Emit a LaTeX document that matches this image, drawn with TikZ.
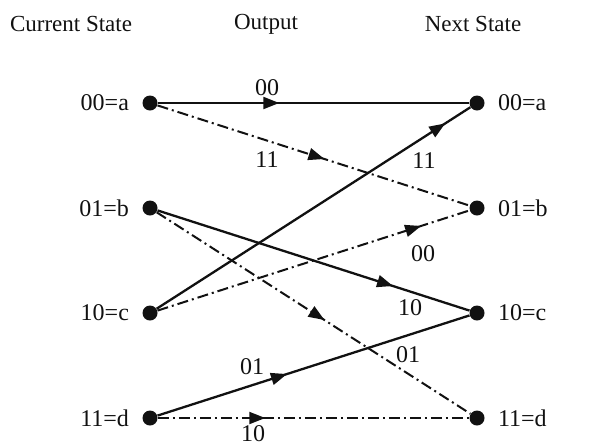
\documentclass[tikz,border=0pt]{standalone}
\usepackage{fontspec}
\setmainfont{Liberation Serif}
\usetikzlibrary{arrows.meta,decorations.markings}
\definecolor{trellisink}{HTML}{111111}

\begin{document}
\begin{tikzpicture}[
  x=0.5pt,
  y=-0.5pt,
  every node/.style={font=\fontsize{12}{14}\selectfont, text=trellisink},
  state/.style={circle, fill=trellisink, inner sep=0pt, minimum size=7.5pt},
  zero/.style={trellisink, line width=1.15pt},
  one/.style={trellisink, line width=1pt, dash pattern=on 5.5pt off 2pt on 1pt off 2pt},
  midarrow/.style={postaction={decorate, decoration={markings,
    mark=at position #1 with {\arrow{Triangle[length=8pt,width=6pt]}}}}}
]
  \useasboundingbox (0,0) rectangle (603,445);

  \node (hcur) at (71,24) {\fontsize{11.5}{13}\selectfont Current State};
  \node (hout) at (266,24) {\fontsize{11.5}{13}\selectfont Output};
  \node (hnext) at (473,24) {\fontsize{11.5}{13}\selectfont Next State};

  \node[state] (ca) at (150,103) {};
  \node[state] (cb) at (150,208) {};
  \node[state] (cc) at (150,313) {};
  \node[state] (cd) at (150,418) {};
  \node[state] (na) at (477,103) {};
  \node[state] (nb) at (477,208) {};
  \node[state] (nc) at (477,313) {};
  \node[state] (nd) at (477,418) {};

  \node[anchor=east] (lca) at (136,103) {00=a};
  \node[anchor=east] (lcb) at (136,208) {01=b};
  \node[anchor=east] (lcc) at (136,313) {10=c};
  \node[anchor=east] (lcd) at (136,418) {11=d};
  \node[anchor=west] (lna) at (491,103) {00=a};
  \node[anchor=west] (lnb) at (491,208) {01=b};
  \node[anchor=west] (lnc) at (491,313) {10=c};
  \node[anchor=west] (lnd) at (491,418) {11=d};

  \draw[zero, midarrow=0.39] (ca) -- (na);
  \draw[one, midarrow=0.535] (ca) -- (nb);
  \draw[zero, midarrow=0.755] (cb) -- (nc);
  \draw[one, midarrow=0.535] (cb) -- (nd);
  \draw[zero, midarrow=0.92] (cc) -- (na);
  \draw[one, midarrow=0.845] (cc) -- (nb);
  \draw[zero, midarrow=0.415] (cd) -- (nc);
  \draw[one, midarrow=0.345] (cd) -- (nd);

  \node (oaa) at (267,88) {00};
  \node (oab) at (267,160) {11};
  \node (oca) at (424,161) {11};
  \node (ocb) at (423,254) {00};
  \node (obc) at (410,308) {10};
  \node (obd) at (408,355) {01};
  \node (odc) at (252,367) {01};
  \node (odd) at (253,434) {10};
\end{tikzpicture}
\end{document}
